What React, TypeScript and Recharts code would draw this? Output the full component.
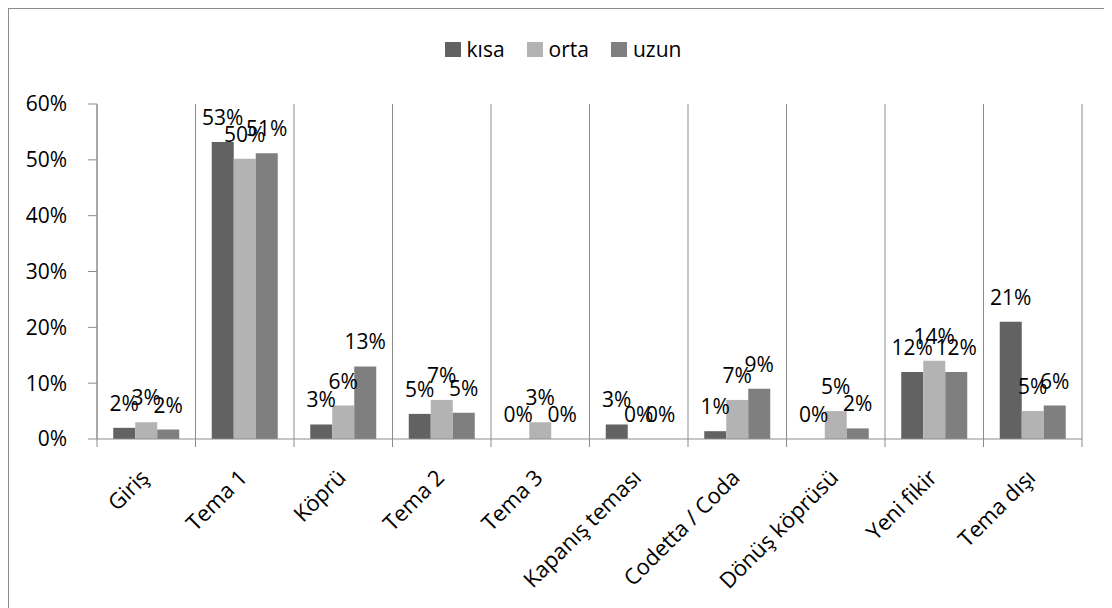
import React from 'react';
import { BarChart, Bar, XAxis, YAxis, CartesianGrid, Legend, LabelList, Rectangle } from 'recharts';

const categories = ['Giriş', 'Tema 1', 'Köprü', 'Tema 2', 'Tema 3', 'Kapanış teması', 'Codetta / Coda', 'Dönüş köprüsü', 'Yeni fikir', 'Tema dışı'];
const kisa = [0.02, 0.532, 0.026, 0.045, 0, 0.026, 0.014, 0, 0.12, 0.21];
const orta = [0.03, 0.502, 0.06, 0.07, 0.03, 0, 0.07, 0.05, 0.14, 0.05];
const uzun = [0.017, 0.512, 0.13, 0.047, 0, 0, 0.09, 0.019, 0.12, 0.06];
const seriesKeys = ['kisa', 'orta', 'uzun'];
const seriesNames = ['kısa', 'orta', 'uzun'];
const seriesColors = ['#626262', '#b3b3b3', '#7f7f7f'];
const yTicks = [0, 0.1, 0.2, 0.3, 0.4, 0.5, 0.6];

const data = categories.map((c, i) => ({ name: c, kisa: kisa[i], orta: orta[i], uzun: uzun[i] }));

const axisColor = '#8c8c8c';
const FONT = '"Open Sans", sans-serif';
const pct = (v: any) => `${Math.round(Number(Array.isArray(v) ? v[1] : v) * 100)}%`;

const XTick = (props: any) => {
  const { x, y, payload, index, visibleTicksCount, width } = props;
  const half = (payload && payload.offset) || width / visibleTicksCount / 2;
  const last = index === visibleTicksCount - 1;
  const tx = x + 4;
  const ty = y + 40;
  return (
    <g>
      <line x1={x - half} y1={y} x2={x - half} y2={y + 8} stroke={axisColor} />
      {last && <line x1={x + half} y1={y} x2={x + half} y2={y + 8} stroke={axisColor} />}
      <text x={tx} y={ty} textAnchor="end" transform={`rotate(-45 ${tx} ${ty})`} fontSize={22} fill="#000" fontFamily={FONT}>
        {payload.value}
      </text>
    </g>
  );
};

const BarShape = (props: any) => {
  if (Math.abs(Number(props.height)) < 0.5) return <g />;
  return <Rectangle {...props} />;
};

const renderValueLabel = (props: any) => {
  const { x, y, width, height, value } = props;
  const top = Math.min(Number(y), Number(y) + Number(height || 0));
  return (
    <text x={Number(x) + Number(width) / 2} y={top - 17} textAnchor="middle" fontSize={21} fill="#000" fontFamily={FONT}>
      {pct(value)}
    </text>
  );
};

const renderLegend = () => (
  <div style={{ display: 'flex', justifyContent: 'center', paddingLeft: 12, fontSize: 21, lineHeight: '29px', fontFamily: FONT, color: '#000' }}>
    {seriesNames.map((n, i) => (
      <div key={n} style={{ display: 'flex', alignItems: 'center', marginRight: i < seriesNames.length - 1 ? 22 : 0 }}>
        <span style={{ display: 'inline-block', width: 16, height: 15, background: seriesColors[i], marginRight: 6 }} />
        <span>{n}</span>
      </div>
    ))}
  </div>
);

export default function App() {
  return (
    <div style={{ width: 1098, height: 610, boxSizing: 'border-box', border: `1px solid ${axisColor}`, fontFamily: FONT, background: '#fff' }}>
      <BarChart
        width={1096}
        height={600}
        data={data}
        margin={{ top: 66, right: 23, bottom: 70, left: 0 }}
        barCategoryGap="16.5%"
        barGap={0}
      >
        <CartesianGrid
          horizontal={false}
          stroke={axisColor}
          verticalCoordinatesGenerator={({ offset }: any) =>
            categories.map((_, i) => offset.left + (offset.width * i) / categories.length).concat(offset.left + offset.width)
          }
        />
        <XAxis
          dataKey="name"
          interval={0}
          height={100}
          tickSize={0}
          tickMargin={0}
          tickLine={false}
          axisLine={{ stroke: axisColor }}
          tick={<XTick />}
        />
        <YAxis
          width={88}
          domain={[0, 0.6]}
          ticks={yTicks}
          tickFormatter={pct}
          tickSize={9}
          tickMargin={21}
          axisLine={{ stroke: axisColor }}
          tickLine={{ stroke: axisColor }}
          tick={{ fontSize: 21, fill: '#000', fontFamily: FONT }}
        />
        <Legend verticalAlign="top" align="center" wrapperStyle={{ top: 26, left: 0, width: 1096 }} content={renderLegend} />
        {seriesKeys.map((k, i) => (
          <Bar
            key={k}
            dataKey={k}
            name={seriesNames[i]}
            fill={seriesColors[i]}
            minPointSize={0.01}
            shape={<BarShape />}
            isAnimationActive={false}
          >
            <LabelList dataKey={k} content={renderValueLabel} />
          </Bar>
        ))}
      </BarChart>
    </div>
  );
}
